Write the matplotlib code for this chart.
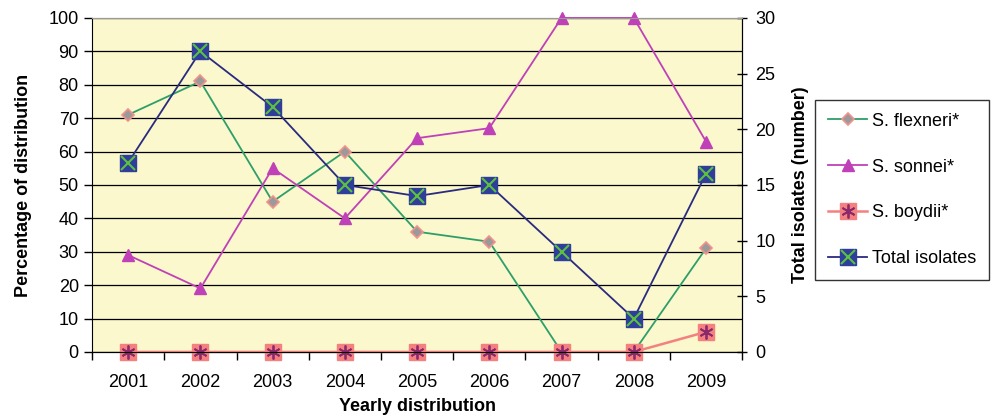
import numpy as np
import matplotlib.pyplot as plt
from matplotlib.legend_handler import HandlerTuple

plt.rcParams['font.family'] = ['Liberation Sans', 'DejaVu Sans']

years = ['2001', '2002', '2003', '2004', '2005', '2006', '2007', '2008', '2009']
flexneri = [71, 81, 45, 60, 36, 33, 0, 0, 31]
sonnei = [29, 19, 55, 40, 64, 67, 100, 100, 63]
boydii = [0, 0, 0, 0, 0, 0, 0, 0, 6]
total_isolates = [17, 27, 22, 15, 14, 15, 9, 3, 16]

x = np.arange(len(years))
fs = 13

fig = plt.figure(figsize=(9.94, 4.17), dpi=100)
ax = fig.add_axes([0.0926, 0.156, 0.654, 0.801])
ax.set_facecolor('#FAF8CC')
ax2 = ax.twinx()

# percentage series on the left axis
l1, = ax.plot(x, flexneri, color='#2E9E6A', lw=1.3, marker='D', ms=6,
              mfc='#9A9A9A', mec='#F4908C', mew=1.2, zorder=3, clip_on=False)
l2, = ax.plot(x, sonnei, color='#C040B8', lw=1.3, marker='^', ms=8,
              mfc='#C040B8', mec='#C040B8', zorder=3, clip_on=False)
l3, = ax.plot(x, boydii, color='#F48080', lw=1.8, marker='s', ms=11,
              mfc='#F48080', mec='#F48080', zorder=3, clip_on=False)
l3b, = ax.plot(x, boydii, ls='none', marker=(6, 2, 0), ms=10,
               mec='#8B2A6A', mew=1.3, zorder=4, clip_on=False)

# total isolates on the right axis
l4, = ax2.plot(x, total_isolates, color='#2A2A80', lw=1.3, marker='s', ms=12,
               mfc='#2E3E9A', mec='#2E3E9A', zorder=3, clip_on=False)
l4b, = ax2.plot(x, total_isolates, ls='none', marker='x', ms=10,
                mec='#5CC040', mew=1.5, zorder=4, clip_on=False)

ax.set_xlim(-0.5, len(years) - 0.5)
ax.set_ylim(0, 100)
ax2.set_ylim(0, 30)
ax.set_yticks(np.arange(0, 101, 10))
ax2.set_yticks(np.arange(0, 31, 5))
ax.set_xticks(x)
ax.set_xticklabels(years)
ax.set_xticks(np.arange(-0.5, len(years), 1), minor=True)
ax.tick_params(axis='x', which='major', length=0, pad=16, labelsize=fs)
ax.tick_params(axis='x', which='minor', length=6, direction='out', width=1)
ax.tick_params(axis='y', length=6, direction='out', width=1, labelsize=fs)
ax2.tick_params(axis='y', length=7, direction='inout', width=1, labelsize=fs, pad=6)

ax.grid(axis='y', color='black', lw=0.9)
ax.set_axisbelow(True)
ax.spines['top'].set_color('#999999')
ax2.spines['top'].set_color('#999999')
ax2.spines['left'].set_visible(False)

ax.set_xlabel('Yearly distribution', fontsize=fs, fontweight='bold', labelpad=5)
ax.set_ylabel('Percentage of distribution', fontsize=fs, fontweight='bold', labelpad=12)
ax2.set_ylabel('Total isolates (number)', fontsize=fs, fontweight='bold', labelpad=12)

leg = fig.legend([l1, l2, (l3, l3b), (l4, l4b)],
                 ['S. flexneri*', 'S. sonnei*', 'S. boydii*', 'Total isolates'],
                 handler_map={tuple: HandlerTuple(ndivide=1)},
                 loc='upper left', bbox_to_anchor=(0.820, 0.76),
                 fontsize=fs, frameon=True, fancybox=False, edgecolor='black',
                 labelspacing=1.6, handlelength=2.2, handletextpad=0.25,
                 borderpad=0.7, borderaxespad=0)
leg.get_frame().set_linewidth(1.0)

fig.savefig('out.png', dpi=100)
